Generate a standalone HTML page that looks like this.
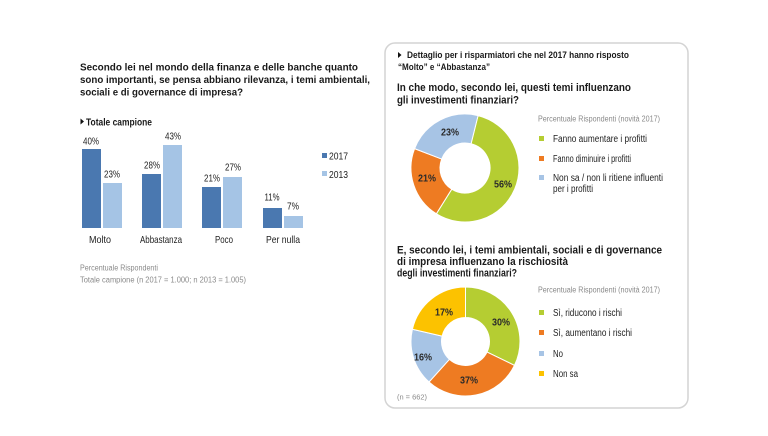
<!DOCTYPE html>
<html><head><meta charset="utf-8"><style>
html,body{margin:0;padding:0;background:#fff;}
svg{display:block;}
text{font-family:"Liberation Sans",Arial,sans-serif;}
.b{font-weight:bold;fill:#1a1a1a;}
.g{fill:#8a8a8a;}
.t{fill:#222;}
</style></head><body>
<svg width="768" height="436" viewBox="0 0 768 436" xmlns="http://www.w3.org/2000/svg">
<rect width="768" height="436" fill="#fff"/>

<!-- Left title -->
<text class="b" x="80" y="70.5" font-size="10.5" textLength="278" lengthAdjust="spacingAndGlyphs">Secondo lei nel mondo della finanza e delle banche quanto</text>
<text class="b" x="80" y="83" font-size="10.5" textLength="290" lengthAdjust="spacingAndGlyphs">sono importanti, se pensa abbiano rilevanza, i temi ambientali,</text>
<text class="b" x="80" y="95.5" font-size="10.5" textLength="163" lengthAdjust="spacingAndGlyphs">sociali e di governance di impresa?</text>

<polygon points="80.5,118.5 84,121.5 80.5,124.5" fill="#111"/>
<text class="b" x="86" y="125.5" font-size="10" textLength="66" lengthAdjust="spacingAndGlyphs">Totale campione</text>

<!-- Bars -->
<g>
<rect x="82" y="149" width="19" height="79" fill="#4a78b0"/>
<rect x="103" y="183" width="19" height="45" fill="#a5c4e5"/>
<rect x="142" y="174" width="19" height="54" fill="#4a78b0"/>
<rect x="163" y="145" width="19" height="83" fill="#a5c4e5"/>
<rect x="202" y="187" width="19" height="41" fill="#4a78b0"/>
<rect x="223" y="177" width="19" height="51" fill="#a5c4e5"/>
<rect x="263" y="208" width="19" height="20" fill="#4a78b0"/>
<rect x="284" y="216" width="19" height="12" fill="#a5c4e5"/>
</g>
<g font-size="10" class="t" text-anchor="middle">
<text x="91" y="144.5" textLength="16" lengthAdjust="spacingAndGlyphs">40%</text>
<text x="112" y="177.5" textLength="16" lengthAdjust="spacingAndGlyphs">23%</text>
<text x="152" y="168.5" textLength="16" lengthAdjust="spacingAndGlyphs">28%</text>
<text x="173" y="139.5" textLength="16" lengthAdjust="spacingAndGlyphs">43%</text>
<text x="212" y="181.5" textLength="16" lengthAdjust="spacingAndGlyphs">21%</text>
<text x="233" y="170.5" textLength="16" lengthAdjust="spacingAndGlyphs">27%</text>
<text x="272" y="200.5" textLength="15" lengthAdjust="spacingAndGlyphs">11%</text>
<text x="293" y="209.5" textLength="12" lengthAdjust="spacingAndGlyphs">7%</text>
</g>
<g font-size="10.5" class="t" text-anchor="middle">
<text x="100" y="243" textLength="22" lengthAdjust="spacingAndGlyphs">Molto</text>
<text x="161" y="243" textLength="42" lengthAdjust="spacingAndGlyphs">Abbastanza</text>
<text x="224" y="243" textLength="18" lengthAdjust="spacingAndGlyphs">Poco</text>
<text x="283" y="243" textLength="34" lengthAdjust="spacingAndGlyphs">Per nulla</text>
</g>

<!-- legend -->
<rect x="322" y="153" width="5" height="5" fill="#4a78b0"/>
<text x="329" y="159.5" font-size="10.5" class="t" textLength="19" lengthAdjust="spacingAndGlyphs">2017</text>
<rect x="322" y="171" width="5" height="5" fill="#a5c4e5"/>
<text x="329" y="178" font-size="10.5" class="t" textLength="19" lengthAdjust="spacingAndGlyphs">2013</text>

<text class="g" x="80" y="270.5" font-size="8" textLength="78" lengthAdjust="spacingAndGlyphs">Percentuale Rispondenti</text>
<text class="g" x="80" y="282.5" font-size="8" textLength="166" lengthAdjust="spacingAndGlyphs" fill="#777">Totale campione (n 2017 = 1.000; n 2013 = 1.005)</text>

<!-- Right box -->
<rect x="385" y="43" width="303" height="365" rx="10" ry="10" fill="#fff" stroke="#d4d4d4" stroke-width="1.5"/>

<polygon points="398,52 401.5,55 398,58" fill="#111"/>
<text class="b" x="407" y="58" font-size="9.5" textLength="222" lengthAdjust="spacingAndGlyphs">Dettaglio per i risparmiatori che nel 2017 hanno risposto</text>
<text class="b" x="398" y="70" font-size="9.5" textLength="92" lengthAdjust="spacingAndGlyphs">“Molto” e “Abbastanza”</text>

<text class="b" x="397" y="91" font-size="11" textLength="234" lengthAdjust="spacingAndGlyphs">In che modo, secondo lei, questi temi influenzano</text>
<text class="b" x="397" y="103.5" font-size="11" textLength="122" lengthAdjust="spacingAndGlyphs">gli investimenti finanziari?</text>

<text class="g" x="538" y="121.5" font-size="8" textLength="122" lengthAdjust="spacingAndGlyphs">Percentuale Rispondenti (novità 2017)</text>

<!-- Donut 1 -->
<g stroke="#fff" stroke-width="1">
<path d="M 478.06 115.60 A 54 54 0 1 1 436.38 213.79 L 451.75 189.20 A 25 25 0 1 0 471.05 143.74 Z" fill="#b5cd32"/>
<path d="M 436.38 213.79 A 54 54 0 0 1 414.59 148.65 L 441.66 159.04 A 25 25 0 0 0 451.75 189.20 Z" fill="#ee7b22"/>
<path d="M 414.59 148.65 A 54 54 0 0 1 478.06 115.60 L 471.05 143.74 A 25 25 0 0 0 441.66 159.04 Z" fill="#a7c4e5"/>
</g>
<g font-size="10" font-weight="bold" fill="#2a2a2a" text-anchor="middle">
<text x="450" y="135.5" textLength="18" lengthAdjust="spacingAndGlyphs">23%</text>
<text x="427" y="181.5" textLength="18" lengthAdjust="spacingAndGlyphs">21%</text>
<text x="503" y="187.5" textLength="18" lengthAdjust="spacingAndGlyphs">56%</text>
</g>

<rect x="539" y="136" width="5" height="5" fill="#b5cd32"/>
<text x="553" y="142" font-size="10" class="t" textLength="94" lengthAdjust="spacingAndGlyphs">Fanno aumentare i profitti</text>
<rect x="539" y="156" width="5" height="5" fill="#ee7b22"/>
<text x="553" y="162" font-size="10" class="t" textLength="78" lengthAdjust="spacingAndGlyphs">Fanno diminuire i profitti</text>
<rect x="539" y="175" width="5" height="5" fill="#a7c4e5"/>
<text x="553" y="181" font-size="10" class="t" textLength="110" lengthAdjust="spacingAndGlyphs">Non sa / non li ritiene influenti</text>
<text x="553" y="192" font-size="10" class="t" textLength="40" lengthAdjust="spacingAndGlyphs">per i profitti</text>

<!-- Second question -->
<text class="b" x="397" y="253.5" font-size="11" textLength="265" lengthAdjust="spacingAndGlyphs">E, secondo lei, i temi ambientali, sociali e di governance</text>
<text class="b" x="397" y="265" font-size="11" textLength="171" lengthAdjust="spacingAndGlyphs">di impresa influenzano la rischiosità</text>
<text class="b" x="397" y="276.5" font-size="11" textLength="120" lengthAdjust="spacingAndGlyphs">degli investimenti finanziari?</text>

<text class="g" x="538" y="292.5" font-size="8" textLength="122" lengthAdjust="spacingAndGlyphs">Percentuale Rispondenti (novità 2017)</text>

<!-- Donut 2 -->
<g stroke="#fff" stroke-width="1">
<path d="M 465.5 287 A 54.5 54.5 0 0 1 514.48 365.39 L 487.07 352.02 A 24 24 0 0 0 465.5 317.5 Z" fill="#b5cd32"/>
<path d="M 514.48 365.39 A 54.5 54.5 0 0 1 429.03 382.00 L 449.44 359.33 A 24 24 0 0 0 487.07 352.02 Z" fill="#ee7b22"/>
<path d="M 429.03 382.00 A 54.5 54.5 0 0 1 412.40 329.24 L 442.11 336.10 A 24 24 0 0 0 449.44 359.33 Z" fill="#a7c4e5"/>
<path d="M 412.40 329.24 A 54.5 54.5 0 0 1 465.5 287 L 465.5 317.5 A 24 24 0 0 0 442.11 336.10 Z" fill="#fcc200"/>
</g>
<g font-size="10" font-weight="bold" fill="#2a2a2a" text-anchor="middle">
<text x="444" y="315.5" textLength="18" lengthAdjust="spacingAndGlyphs">17%</text>
<text x="501" y="325.5" textLength="18" lengthAdjust="spacingAndGlyphs">30%</text>
<text x="423" y="360.5" textLength="18" lengthAdjust="spacingAndGlyphs">16%</text>
<text x="469" y="383.5" textLength="18" lengthAdjust="spacingAndGlyphs">37%</text>
</g>

<rect x="539" y="310" width="5" height="5" fill="#b5cd32"/>
<text x="553" y="316" font-size="10" class="t" textLength="69" lengthAdjust="spacingAndGlyphs">Sì, riducono i rischi</text>
<rect x="539" y="330" width="5" height="5" fill="#ee7b22"/>
<text x="553" y="336" font-size="10" class="t" textLength="79" lengthAdjust="spacingAndGlyphs">Sì, aumentano i rischi</text>
<rect x="539" y="351" width="5" height="5" fill="#a7c4e5"/>
<text x="553" y="357" font-size="10" class="t" textLength="10" lengthAdjust="spacingAndGlyphs">No</text>
<rect x="539" y="371" width="5" height="5" fill="#fcc200"/>
<text x="553" y="377" font-size="10" class="t" textLength="25" lengthAdjust="spacingAndGlyphs">Non sa</text>

<text class="g" x="397" y="399.5" font-size="7.5" textLength="30" lengthAdjust="spacingAndGlyphs" fill="#777">(n = 662)</text>
</svg>
</body></html>
